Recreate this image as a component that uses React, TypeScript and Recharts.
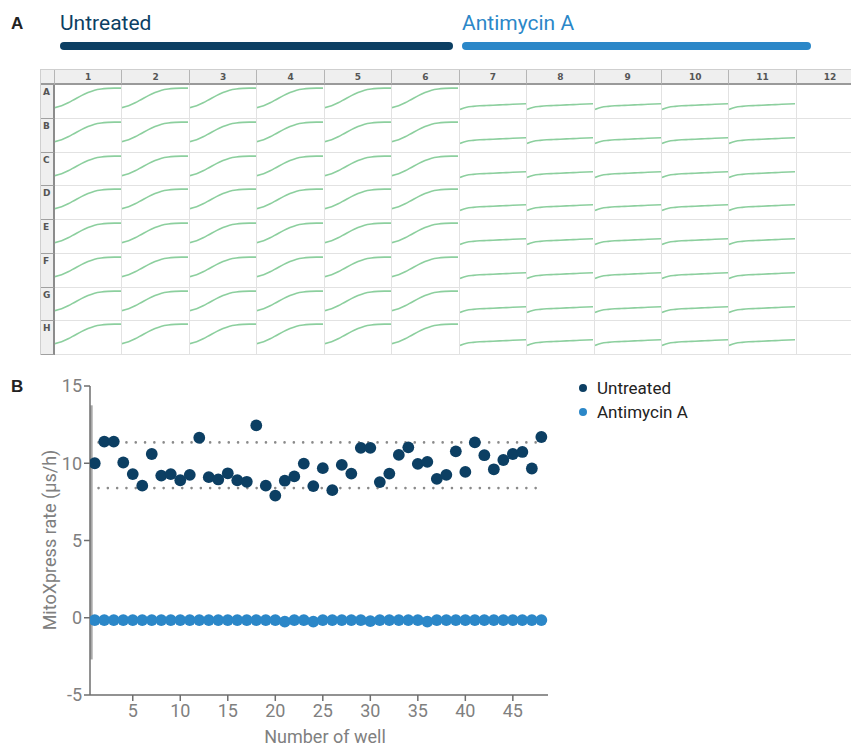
import { LineChart, Line, XAxis, YAxis, ScatterChart, Scatter, ReferenceLine } from "recharts";

// plate layout (panel A)
const plateRows = ["A", "B", "C", "D", "E", "F", "G", "H"];
const plateCols = [1, 2, 3, 4, 5, 6, 7, 8, 9, 10, 11, 12];
const untreatedCols = [1, 2, 3, 4, 5, 6];
const antimycinCols = [7, 8, 9, 10, 11];
// normalised kinetic traces read off a typical well
const untreatedTrace = [0.28, 0.34, 0.44, 0.56, 0.68, 0.78, 0.86, 0.9, 0.92, 0.93, 0.93];
const antimycinTrace = [0.22, 0.29, 0.32, 0.34, 0.35, 0.36, 0.37, 0.38, 0.39, 0.4, 0.41];

// rates (panel B)
const untreatedRate = [
  10.0, 11.4, 11.4, 10.05, 9.3, 8.55, 10.6, 9.2, 9.3, 8.9, 9.25, 11.65,
  9.1, 8.95, 9.35, 8.9, 8.8, 12.45, 8.55, 7.9, 8.87, 9.15, 9.98, 8.52,
  9.68, 8.26, 9.89, 9.33, 11.0, 11.0, 8.78, 9.33, 10.54, 11.03, 9.96, 10.09,
  8.99, 9.25, 10.77, 9.44, 11.35, 10.52, 9.61, 10.21, 10.6, 10.73, 9.66, 11.7,
];
const antimycinRate = [
  -0.15, -0.15, -0.15, -0.15, -0.15, -0.15, -0.15, -0.15, -0.15, -0.15, -0.15, -0.15,
  -0.15, -0.15, -0.15, -0.15, -0.15, -0.15, -0.15, -0.15, -0.25, -0.15, -0.15, -0.25,
  -0.15, -0.15, -0.15, -0.15, -0.15, -0.22, -0.15, -0.15, -0.15, -0.15, -0.15, -0.25,
  -0.15, -0.15, -0.15, -0.15, -0.15, -0.15, -0.15, -0.15, -0.15, -0.15, -0.15, -0.15,
];
const upperLimit = 11.35;
const lowerLimit = 8.39;
const wellTicks = [5, 10, 15, 20, 25, 30, 35, 40, 45];
const rateTicks = [-5, 0, 5, 10, 15];

const NAVY = "#0c3f63";
const BLUE = "#2b87c8";
const GREEN = "#8ccf9e";
const GRAY_TXT = "#808080";
const AXIS = "#6e6e6e";

const COL_W = 67.45;
const ROW_H = 33.75;

function Well({ trace }: { trace: number[] }) {
  const data = trace.map((v, i) => ({ t: i, v }));
  return (
    <LineChart width={66} height={32} data={data} margin={{ top: 1, right: 0, bottom: 1, left: 0 }}>
      <XAxis dataKey="t" type="number" domain={[0, trace.length - 1]} hide />
      <YAxis domain={[0, 1]} hide />
      <Line dataKey="v" type="monotone" stroke={GREEN} strokeWidth={1.6} dot={false} isAnimationActive={false} />
    </LineChart>
  );
}

function Plate() {
  const head: React.CSSProperties = {
    background: "#efefef",
    borderRight: "1px solid #b5b5b5",
    borderBottom: "2px solid #9a9a9a",
    boxSizing: "border-box",
    fontFamily: "'DejaVu Sans', sans-serif",
    fontWeight: "bold",
    fontSize: 9,
    color: "#555",
    textAlign: "center",
    lineHeight: "14px",
  };
  const label: React.CSSProperties = {
    background: "#efefef",
    borderRight: "2px solid #8c8c8c",
    borderBottom: "1px solid #a0a0a0",
    boxSizing: "border-box",
    fontFamily: "'DejaVu Sans', sans-serif",
    fontWeight: "bold",
    fontSize: 9,
    color: "#555",
    paddingLeft: 2,
    paddingTop: 2,
  };
  const well: React.CSSProperties = {
    borderRight: "1px solid #e2e2e2",
    borderBottom: "1px solid #e2e2e2",
    boxSizing: "border-box",
    overflow: "hidden",
  };
  return (
    <div
      style={{
        position: "absolute",
        left: 40,
        top: 69,
        width: 811,
        height: 286,
        overflow: "hidden",
        borderTop: "1px solid #cfcfcf",
        borderLeft: "1px solid #cfcfcf",
        boxSizing: "border-box",
      }}
    >
      <div
        style={{
          display: "grid",
          gridTemplateColumns: `14px repeat(12, ${COL_W}px)`,
          gridTemplateRows: `15px repeat(8, ${ROW_H}px)`,
        }}
      >
        <div style={head} />
        {plateCols.map((c) => (
          <div key={"h" + c} style={head}>{c}</div>
        ))}
        {plateRows.map((r) => [
          <div key={r} style={label}>{r}</div>,
          ...plateCols.map((c) => (
            <div key={r + c} style={well}>
              {untreatedCols.includes(c) && <Well trace={untreatedTrace} />}
              {antimycinCols.includes(c) && <Well trace={antimycinTrace} />}
            </div>
          )),
        ])}
      </div>
    </div>
  );
}

const dot = (color: string) => (props: any) => (
  <circle cx={props.cx} cy={props.cy} r={5.9} fill={color} />
);

function RateChart() {
  const untreatedData = untreatedRate.map((rate, i) => ({ well: i + 1, rate }));
  const antimycinData = antimycinRate.map((rate, i) => ({ well: i + 1, rate }));
  const tick = { fill: GRAY_TXT, fontSize: 18, fontFamily: "Roboto, sans-serif" };
  return (
    <div style={{ position: "absolute", left: 0, top: 370 }}>
      <ScatterChart width={560} height={375} margin={{ top: 16, right: 12, bottom: 20, left: 0 }}>
        <XAxis
          type="number"
          dataKey="well"
          domain={[0.5, 48.7]}
          ticks={wellTicks}
          allowDataOverflow
          height={30}
          tick={tick}
          tickSize={6}
          tickMargin={3}
          stroke={AXIS}
          strokeWidth={1.5}
        />
        <YAxis
          type="number"
          dataKey="rate"
          domain={[-5, 15]}
          ticks={rateTicks}
          width={90}
          tick={tick}
          tickSize={6}
          tickMargin={2}
          stroke={AXIS}
          strokeWidth={1.5}
        />
        <ReferenceLine
          segment={[{ x: 0.65, y: 13.75 }, { x: 0.65, y: -2.7 }]}
          stroke="#a8a8a8"
          strokeWidth={2.5}
        />
        <ReferenceLine
          segment={[{ x: 1.4, y: upperLimit }, { x: 47.7, y: upperLimit }]}
          stroke="#8a8a8a"
          strokeWidth={2.6}
          strokeDasharray="0 9.3"
          strokeLinecap="round"
        />
        <ReferenceLine
          segment={[{ x: 1.4, y: lowerLimit }, { x: 47.7, y: lowerLimit }]}
          stroke="#8a8a8a"
          strokeWidth={2.6}
          strokeDasharray="0 9.3"
          strokeLinecap="round"
        />
        <Scatter name="Untreated" data={untreatedData} fill={NAVY} shape={dot(NAVY)} isAnimationActive={false} />
        <Scatter name="Antimycin A" data={antimycinData} fill={BLUE} shape={dot(BLUE)} isAnimationActive={false} />
      </ScatterChart>
    </div>
  );
}

export default function App() {
  const panel: React.CSSProperties = {
    position: "absolute",
    fontFamily: "'Liberation Sans', Arial, sans-serif",
    fontWeight: "bold",
    fontSize: 17,
    lineHeight: "20px",
    color: "#222",
  };
  return (
    <div
      style={{
        position: "absolute",
        left: 0,
        top: 0,
        width: 851,
        height: 745,
        background: "#fff",
        overflow: "hidden",
        fontFamily: "Roboto, sans-serif",
      }}
    >
      <div style={{ ...panel, left: 11, top: 14 }}>A</div>
      <div style={{ ...panel, left: 11, top: 377 }}>B</div>

      <div style={{ position: "absolute", left: 60, top: 11, fontSize: 21, lineHeight: "24px", color: NAVY }}>Untreated</div>
      <div style={{ position: "absolute", left: 60, top: 42, width: 393, height: 8, borderRadius: 4, background: NAVY }} />
      <div style={{ position: "absolute", left: 462, top: 11, fontSize: 21, lineHeight: "24px", color: BLUE }}>Antimycin A</div>
      <div style={{ position: "absolute", left: 462, top: 42, width: 349, height: 8, borderRadius: 4, background: BLUE }} />

      <Plate />
      <RateChart />

      <div
        style={{
          position: "absolute",
          left: 49,
          top: 540,
          transform: "translate(-50%, -50%) rotate(-90deg)",
          whiteSpace: "nowrap",
          fontSize: 18,
          color: GRAY_TXT,
        }}
      >
        MitoXpress rate (µs/h)
      </div>
      <div
        style={{
          position: "absolute",
          left: 325,
          top: 736,
          transform: "translate(-50%, -50%)",
          whiteSpace: "nowrap",
          fontSize: 18,
          color: GRAY_TXT,
        }}
      >
        Number of well
      </div>

      {[
        { name: "Untreated", color: NAVY, top: 378 },
        { name: "Antimycin A", color: BLUE, top: 402 },
      ].map((item) => (
        <div key={item.name} style={{ position: "absolute", left: 579, top: item.top, display: "flex", alignItems: "center", height: 20 }}>
          <span style={{ width: 8, height: 8, borderRadius: 4, background: item.color, marginRight: 10 }} />
          <span style={{ fontSize: 17, color: "#222" }}>{item.name}</span>
        </div>
      ))}
    </div>
  );
}
